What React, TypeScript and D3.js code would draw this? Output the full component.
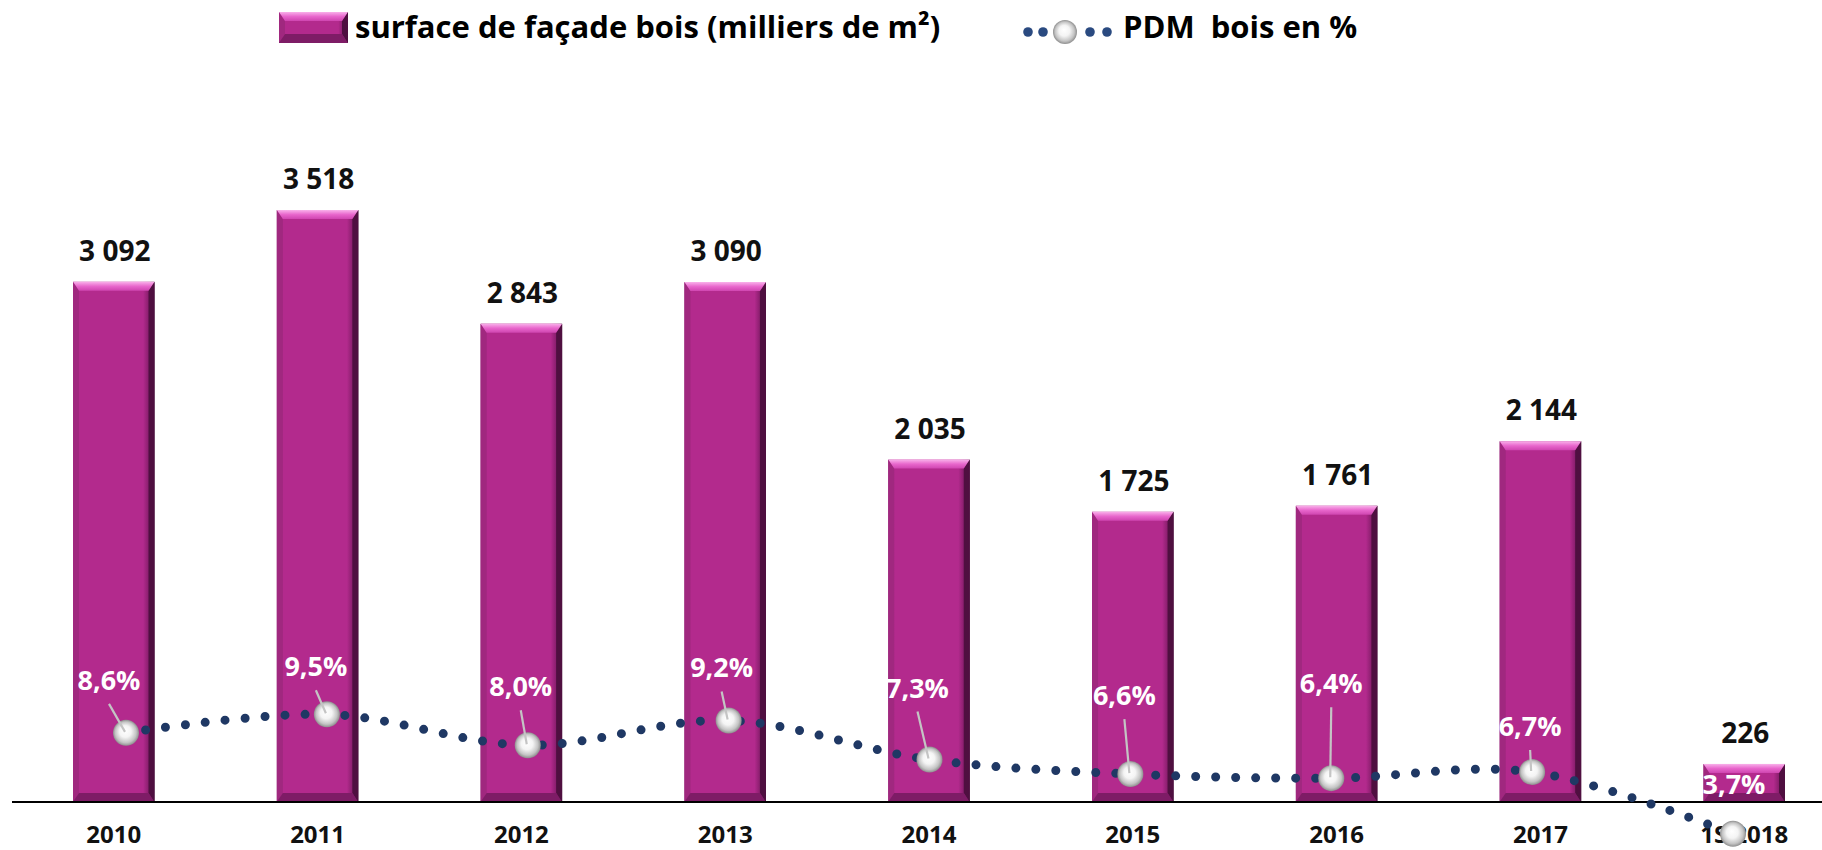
import { useEffect, useRef } from "react";
import * as d3 from "d3";

const categories = ["2010", "2011", "2012", "2013", "2014", "2015", "2016", "2017", "1S 2018"];
const surface = [3092, 3518, 2843, 3090, 2035, 1725, 1761, 2144, 226];
const pdm = [8.6, 9.5, 8.0, 9.2, 7.3, 6.6, 6.4, 6.7, 3.7];
// where each % label sits from its marker: dx, dy, draw leader or not
const pdmLabelPos = [
  [-17, -43, 1],
  [-11, -38, 1],
  [-7, -49, 1],
  [-7, -43, 1],
  [-12, -62, 1],
  [-6, -69, 1],
  [0, -85, 1],
  [-2, -36, 1],
  [1, -40, 0],
];

const legendBar = "surface de façade bois (milliers de m²)";
const legendLine = "PDM  bois en %";

const W = 1822;
const H = 850;
const FONT = "'Open Sans', 'Noto Sans', sans-serif";

const fr = d3.formatLocale({ decimal: ",", thousands: " ", grouping: [3], currency: ["", " €"] });
const fmtInt = fr.format(",d");
const fmtPct = fr.format(".1f");

function bevelBar(g, x0, y0, x1, y1) {
  const t = Math.min(9, (y1 - y0) / 3);
  const s = 6;
  g.append("rect")
    .attr("x", x0)
    .attr("y", y0)
    .attr("width", x1 - x0)
    .attr("height", y1 - y0)
    .attr("fill", "url(#barBody)");
  const poly = (pts, fill) =>
    g.append("polygon").attr("points", pts.map((p) => p.join(",")).join(" ")).attr("fill", fill);
  poly([[x0, y0], [x0 + s, y0 + t], [x0 + s, y1 - t], [x0, y1]], "#a0287f");
  poly([[x1, y0], [x1 - s, y0 + t], [x1 - s, y1 - t], [x1, y1]], "#4f0f40");
  poly([[x0, y1], [x1, y1], [x1 - s, y1 - t], [x0 + s, y1 - t]], "#7e1c66");
  poly([[x0, y0], [x1, y0], [x1 - s, y0 + t], [x0 + s, y0 + t]], "url(#barTop)");
}

function App() {
  const svgRef = useRef(null);

  useEffect(() => {
    if (!svgRef.current) return;
    const svg = d3.select(svgRef.current);
    svg.selectAll("*").remove();

    const x = d3.scaleBand().domain(categories).range([73, 1785]).paddingInner(0.6).paddingOuter(0);
    const x2 = d3.scalePoint().domain(categories).range([126, 1733]);
    const y = d3.scaleLinear().domain([0, 4000]).range([802, 129]);
    const y2 = d3.scaleLinear().domain([0, 10]).range([910, 704]);

    const defs = svg.append("defs");
    const body = defs.append("linearGradient").attr("id", "barBody").attr("x1", 0).attr("x2", 1).attr("y1", 0).attr("y2", 0);
    [
      [0, "#8c2172"],
      [0.08, "#b32a8d"],
      [0.86, "#b32a8d"],
      [0.95, "#7a1a62"],
      [1, "#3f0b33"],
    ].forEach(([o, c]) => body.append("stop").attr("offset", o).attr("stop-color", c));
    const top = defs.append("linearGradient").attr("id", "barTop").attr("x1", 0).attr("x2", 0).attr("y1", 0).attr("y2", 1);
    [
      [0, "#f9b0ea"],
      [0.5, "#e866cc"],
      [1, "#cf45b0"],
    ].forEach(([o, c]) => top.append("stop").attr("offset", o).attr("stop-color", c));
    const ball = defs.append("radialGradient").attr("id", "ball").attr("cx", 0.5).attr("cy", 0.5).attr("r", 0.5).attr("fx", 0.45).attr("fy", 0.4);
    [
      [0, "#ffffff"],
      [0.45, "#f4f4f4"],
      [0.8, "#c4c4c4"],
      [1, "#8e8e8e"],
    ].forEach(([o, c]) => ball.append("stop").attr("offset", o).attr("stop-color", c));

    // bars
    const bars = svg.append("g");
    surface.forEach((v, i) => {
      const x0 = x(categories[i]);
      bevelBar(bars.append("g"), x0, y(v), x0 + x.bandwidth(), y(0));
    });

    // axis
    svg.append("line")
      .attr("x1", 12)
      .attr("x2", W)
      .attr("y1", y(0))
      .attr("y2", y(0))
      .attr("stroke", "#000")
      .attr("stroke-width", 2);
    const ax = svg.append("g")
      .attr("transform", `translate(0,${y(0)})`)
      .call(d3.axisBottom(x).tickSize(0));
    ax.select(".domain").remove();
    ax.selectAll("text")
      .attr("y", 41)
      .attr("dy", 0)
      .attr("font-family", FONT)
      .attr("font-weight", 700)
      .attr("font-size", 24)
      .attr("fill", "#111");

    // value labels
    svg.append("g")
      .selectAll("text")
      .data(surface)
      .join("text")
      .attr("x", (d, i) => x(categories[i]) + x.bandwidth() / 2 + 1)
      .attr("y", (d) => y(d) - 21)
      .attr("text-anchor", "middle")
      .attr("font-family", FONT)
      .attr("font-weight", 700)
      .attr("font-size", 28)
      .attr("fill", "#111")
      .text((d) => fmtInt(d));

    // dotted line
    const line = d3.line()
      .x((d, i) => x2(categories[i]))
      .y((d) => y2(d))
      .curve(d3.curveCatmullRom);
    svg.append("path")
      .attr("d", line(pdm))
      .attr("fill", "none")
      .attr("stroke", "#1f3864")
      .attr("stroke-width", 9)
      .attr("stroke-linecap", "round")
      .attr("stroke-dasharray", "0 20");

    svg.append("g")
      .selectAll("circle")
      .data(pdm)
      .join("circle")
      .attr("cx", (d, i) => x2(categories[i]))
      .attr("cy", (d) => y2(d))
      .attr("r", 13)
      .attr("fill", "url(#ball)");

    // leaders + % labels
    const lab = svg.append("g");
    pdm.forEach((v, i) => {
      const cx = x2(categories[i]);
      const cy = y2(v);
      const [dx, dy, lead] = pdmLabelPos[i];
      if (lead) {
        lab.append("line")
          .attr("x1", cx + dx)
          .attr("y1", cy + dy + 14)
          .attr("x2", cx - 1)
          .attr("y2", cy - 1)
          .attr("stroke", "#c4c4c4")
          .attr("stroke-width", 2.2);
      }
      lab.append("text")
        .attr("x", cx + dx)
        .attr("y", cy + dy)
        .attr("text-anchor", "middle")
        .attr("font-family", FONT)
        .attr("font-weight", 700)
        .attr("font-size", 27)
        .attr("fill", "#fff")
        .text(fmtPct(v) + "%");
    });

    // legend
    const lg = svg.append("g");
    bevelBar(lg.append("g"), 279, 12, 348, 43);
    lg.append("text")
      .attr("x", 355)
      .attr("y", 38)
      .attr("font-family", FONT)
      .attr("font-weight", 700)
      .attr("font-size", 31)
      .attr("fill", "#000")
      .text(legendBar);
    [1028, 1043, 1090, 1107].forEach((cx) =>
      lg.append("circle").attr("cx", cx).attr("cy", 32).attr("r", 4.8).attr("fill", "#2a4a80")
    );
    lg.append("circle").attr("cx", 1065).attr("cy", 32).attr("r", 12).attr("fill", "url(#ball)");
    lg.append("text")
      .attr("x", 1123)
      .attr("y", 38)
      .attr("font-family", FONT)
      .attr("font-weight", 700)
      .attr("font-size", 31)
      .attr("fill", "#000")
      .style("white-space", "pre")
      .text(legendLine);
  }, []);

  return (
    <div>
      <svg
        ref={svgRef}
        width={W}
        height={H}
        style={{ position: "absolute", left: 0, top: 0, background: "#fff" }}
      ></svg>
    </div>
  );
}

export default App;
